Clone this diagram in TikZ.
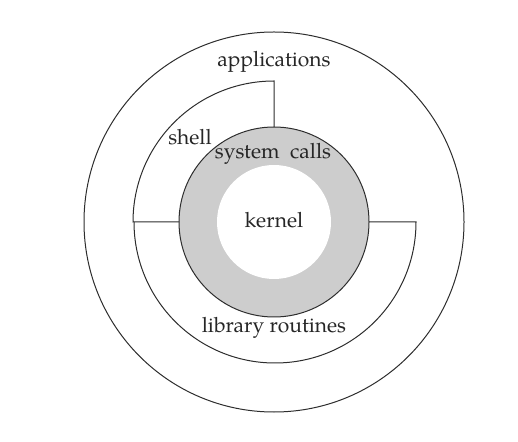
\documentclass[tikz,border=0pt]{standalone}
\usepackage{fontspec}
\setmainfont{TeX Gyre Pagella}
\definecolor{ringgray}{RGB}{205,205,205}
\definecolor{inkline}{RGB}{45,45,45}
\tikzset{
  ring/.style={circle, draw=inkline, line width=1pt, inner sep=0pt, outer sep=0pt},
  layerline/.style={draw=inkline, line width=1pt},
  lbl/.style={font=\fontsize{21}{25}\selectfont, text=black!85, inner sep=0pt}
}
\begin{document}
\begin{tikzpicture}[x=1pt,y=1pt]
\useasboundingbox (0,0) rectangle (518,441);
\coordinate (c) at (274,219);
% outer ring: applications
\node[ring, minimum size=380pt] (apps) at (c) {};
% system call ring around the kernel
\node[ring, fill=ringgray, minimum size=190pt] (sys) at (c) {};
\node[circle, fill=white, inner sep=0pt, minimum size=114pt] (kern) at (c) {};
% shell: quarter ring in the upper left
\draw[layerline] (sys.north) -- ++(0,46) coordinate (shelltop)
  arc[start angle=90, end angle=180, radius=141] coordinate (shellleft)
  -- (sys.west);
% library routines: half ring below, reaching out to the right
\draw[layerline] (sys.east) -- ++(47,0) coordinate (libright)
  arc[start angle=0, end angle=-180, radius=141];
% labels
\node[lbl] (tapps) at (274,379) {applications};
\node[lbl] (tshell) at (190,304) {shell};
\node[lbl] (tsys) at (273,287) {system\ \ calls};
\node[lbl] (tkern) at (274,221) {kernel};
\node[lbl] (tlib) at (274,113) {library routines};
\end{tikzpicture}
\end{document}
